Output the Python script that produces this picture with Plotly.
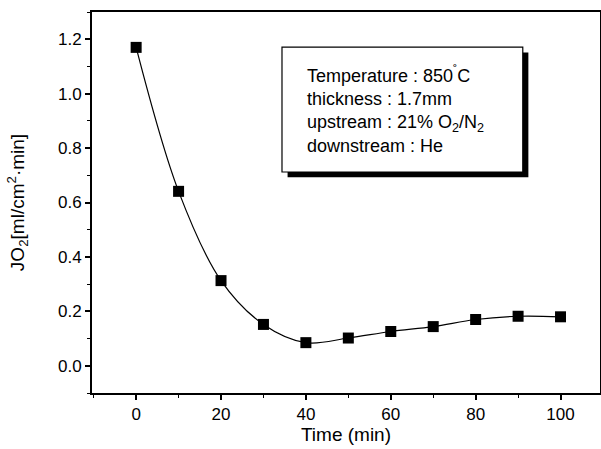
import plotly.graph_objects as go

time_min = [0, 10, 20, 30, 40, 50, 60, 70, 80, 90, 100]
jo2 = [1.17, 0.641, 0.313, 0.152, 0.085, 0.102, 0.126, 0.144, 0.170, 0.182, 0.180]

legend_lines = [
    "Temperature : 850<sup>˚</sup>C",
    "thickness : 1.7mm",
    "upstream : 21% O<sub>2</sub>/N<sub>2</sub>",
    "downstream : He",
]

FONT = "Liberation Sans"

fig = go.Figure()
fig.add_trace(go.Scatter(
    x=time_min, y=jo2, mode="lines+markers",
    line=dict(color="black", width=1.2, shape="spline", smoothing=1.0),
    marker=dict(symbol="square", size=11, color="black"),
    showlegend=False,
))

axis_common = dict(
    showgrid=False, zeroline=False, showline=True, linecolor="black", linewidth=1.8,
    mirror=True, ticks="outside", ticklen=5, tickwidth=1.5, tickcolor="black",
    tickfont=dict(family=FONT, size=17, color="black"), automargin=False,
)

fig.update_xaxes(
    range=[-10.4, 109.3], tickmode="array", tickvals=[0, 20, 40, 60, 80, 100],
    minor=dict(ticks="outside", ticklen=3, tickwidth=1.2, tickcolor="black", dtick=10, tick0=0),
    title=dict(text="Time (min)", font=dict(family=FONT, size=19, color="black"), standoff=3),
    **axis_common,
)
fig.update_yaxes(
    range=[-0.1, 1.3], tickmode="array", tickvals=[0.0, 0.2, 0.4, 0.6, 0.8, 1.0, 1.2],
    tickformat=".1f",
    minor=dict(ticks="outside", ticklen=3, tickwidth=1.2, tickcolor="black", dtick=0.1, tick0=0),
    title=dict(text="JO<sub>2</sub>[ml/cm<sup>2</sup>·min]", font=dict(family=FONT, size=19, color="black"), standoff=28),
    **axis_common,
)

# legend-like info box with drop shadow
bx0, bx1, by0, by1 = 0.374, 0.848, 0.580, 0.908
sx, sy = 0.011, 0.014
fig.add_shape(type="rect", xref="paper", yref="paper",
              x0=bx0 + sx, x1=bx1 + sx, y0=by0 - sy, y1=by1 - sy,
              fillcolor="black", line=dict(color="black", width=0), layer="above")
fig.add_shape(type="rect", xref="paper", yref="paper",
              x0=bx0, x1=bx1, y0=by0, y1=by1,
              fillcolor="white", line=dict(color="black", width=1.2), layer="above")
fig.add_annotation(
    xref="paper", yref="paper", x=bx0 + 0.045, y=(by0 + by1) / 2,
    xanchor="left", yanchor="middle", align="left", showarrow=False,
    text="<br>".join(legend_lines),
    font=dict(family=FONT, size=18, color="black"),
)

fig.update_layout(
    width=601, height=449,
    margin=dict(l=92, r=1, t=12, b=56),
    paper_bgcolor="white", plot_bgcolor="white",
)

fig.write_html("out.html", config={"displayModeBar": False},
               post_script="document.body.style.margin='0';document.body.style.overflow='hidden';")
